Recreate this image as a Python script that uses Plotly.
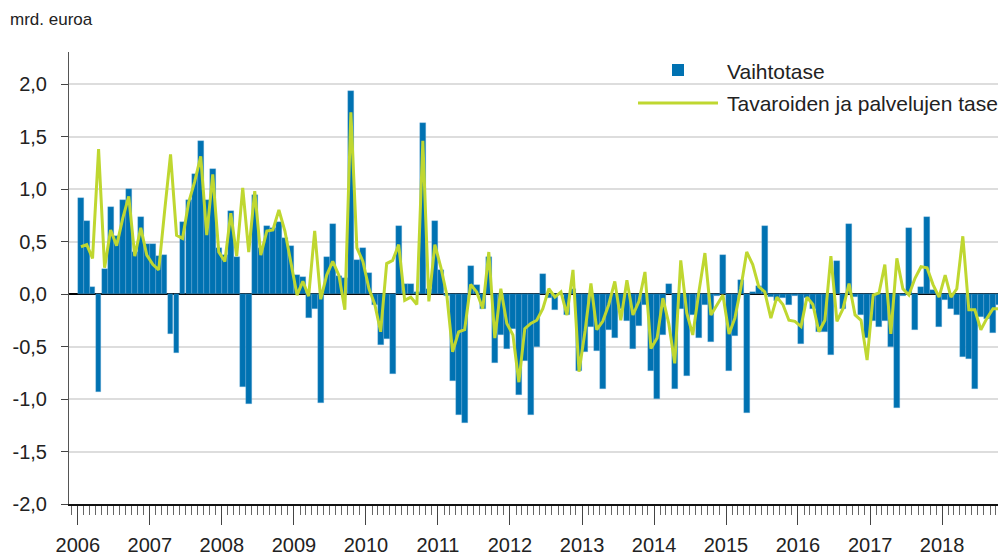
import numpy as np
import pandas as pd
import plotly.graph_objects as go

# Monthly data, Jan 2006 - Nov 2018 (mrd. euroa)
months = pd.date_range("2006-01-01", periods=155, freq="MS")

vaihtotase = [
    0.91, 0.70, 0.07, -0.93, 0.24, 0.83, 0.55, 0.90, 1.00, 0.40, 0.73, 0.48,   # 2006
    0.48, 0.36, 0.37, -0.38, -0.56, 0.69, 0.90, 1.14, 1.46, 0.90, 1.19, 0.44,  # 2007
    0.37, 0.79, 0.35, -0.89, -1.05, 0.94, 0.44, 0.65, 0.63, 0.69, 0.53, 0.46,  # 2008
    0.18, 0.16, -0.23, -0.14, -1.04, 0.35, 0.67, 0.17, 0.15, 1.93, 0.32, 0.44, # 2009
    0.20, -0.10, -0.49, -0.43, -0.76, 0.65, 0.10, 0.10, 0.02, 1.63, 0.05, 0.70, # 2010
    0.23, -0.02, -0.83, -1.15, -1.23, 0.27, 0.09, -0.14, 0.35, -0.66, -0.39, -0.52, # 2011
    -0.33, -0.96, -0.64, -1.15, -0.50, 0.19, -0.04, -0.15, -0.01, -0.20, 0.05, -0.73, # 2012
    -0.55, -0.31, -0.54, -0.90, -0.34, -0.42, -0.14, -0.26, -0.52, -0.30, -0.10, -0.73, # 2013
    -1.00, -0.39, 0.10, -0.90, -0.14, -0.78, -0.20, -0.42, -0.10, -0.46, -0.02, 0.37, # 2014
    -0.73, -0.40, 0.13, -1.13, 0.02, 0.08, 0.65, -0.03, -0.07, -0.04, -0.10, -0.02, # 2015
    -0.48, -0.04, -0.14, -0.36, -0.36, -0.58, 0.31, -0.14, 0.67, -0.03, -0.20, -0.42, # 2016
    -0.26, -0.31, -0.26, -0.50, -1.09, -0.02, 0.63, -0.34, 0.07, 0.73, 0.04, -0.31, # 2017
    -0.06, -0.14, -0.20, -0.60, -0.62, -0.90, -0.22, -0.24, -0.37, -0.10, 0.17,  # 2018
]

tavarat_palvelut = [
    0.45, 0.47, 0.34, 1.38, 0.25, 0.61, 0.46, 0.72, 0.93, 0.36, 0.63, 0.37,
    0.28, 0.23, 0.78, 1.33, 0.56, 0.53, 0.87, 1.07, 1.31, 0.56, 1.14, 0.40,
    0.31, 0.77, 0.36, 1.01, 0.40, 0.98, 0.37, 0.60, 0.61, 0.80, 0.60, 0.31,
    -0.01, 0.12, -0.02, 0.60, -0.05, 0.18, 0.31, 0.18, -0.15, 1.73, 0.44, 0.31,
    0.05, -0.10, -0.36, 0.29, 0.32, 0.47, -0.06, -0.03, -0.10, 1.46, -0.07, 0.47,
    0.25, -0.01, -0.55, -0.36, -0.34, 0.09, 0.02, -0.14, 0.40, -0.42, 0.05, -0.28,
    -0.39, -0.84, -0.33, -0.28, -0.25, -0.14, 0.05, -0.03, 0.02, -0.20, 0.23, -0.74,
    -0.35, 0.10, -0.34, -0.26, -0.10, 0.12, -0.25, 0.13, -0.20, -0.07, 0.21, -0.52,
    -0.42, -0.04, -0.28, -0.66, 0.32, -0.18, -0.39, 0.02, 0.39, -0.20, -0.10, -0.01,
    -0.38, -0.23, 0.05, 0.40, 0.28, 0.07, 0.02, -0.23, -0.03, -0.10, -0.25, -0.26,
    -0.31, -0.03, -0.10, -0.36, -0.25, 0.36, -0.26, -0.14, 0.10, -0.20, -0.25, -0.63,
    -0.01, 0.01, 0.28, -0.38, 0.34, 0.05, -0.01, 0.15, 0.26, 0.25, 0.09, -0.03,
    0.18, -0.03, 0.05, 0.55, -0.15, -0.15, -0.34, -0.23, -0.14, -0.14, 0.00,
]

years = list(range(2006, 2019))
y_ticks = [-2.0, -1.5, -1.0, -0.5, 0.0, 0.5, 1.0, 1.5, 2.0]
y_ticktext = [f"{v:.1f}".replace(".", ",") for v in y_ticks]
series_names = ["Vaihtotase", "Tavaroiden ja palvelujen tase"]
unit_label = "mrd. euroa"

BLUE = "#0072b2"
GREEN = "#bfd730"
FONT = "Liberation Sans, Arial, sans-serif"

fig = go.Figure()
fig.add_trace(go.Bar(
    x=months, y=vaihtotase, name=series_names[0],
    xperiod="M1", xperiodalignment="middle",
    marker=dict(color=BLUE, line=dict(color="rgba(120,180,220,0.6)", width=0.5)),
    showlegend=False,
))
fig.add_trace(go.Scatter(
    x=months, y=tavarat_palvelut, name=series_names[1], mode="lines",
    xperiod="M1", xperiodalignment="middle",
    line=dict(color=GREEN, width=3), showlegend=False,
))

# The page body has an 8px margin, so the figure is laid out 8px up/left.
OFF = 8
W, H = 1006 - OFF, 555 - OFF
ML, MR, MT, MB = 69 - OFF, 0, 52 - OFF, 51
PW, PH = W - ML - MR, H - MT - MB

def px_x(p):
    return (p - OFF - ML) / PW

def px_y(p):
    return (H - MB - (p - OFF)) / PH

fig.update_layout(
    width=W, height=H,
    margin=dict(l=ML, r=MR, t=MT, b=MB, pad=0, autoexpand=False),
    plot_bgcolor="white", paper_bgcolor="white",
    bargap=0,
    font=dict(family=FONT, color="#222222"),
    showlegend=False,
)

fig.update_xaxes(
    type="date", automargin=False,
    range=["2005-11-17", "2018-11-21"],
    tickvals=[f"{y}-01-01" for y in years],
    ticktext=[str(y) for y in years],
    ticks="outside", ticklen=19, tickwidth=1, tickcolor="#444444",
    ticklabelstandoff=3,
    tickfont=dict(size=20, color="#222222"),
    minor=dict(ticks="outside", ticklen=9, tickwidth=1, tickcolor="#666666",
               dtick="M1", tick0="2006-01-01", showgrid=False),
    showline=True, linecolor="#111111", linewidth=2,
    showgrid=False, zeroline=False,
)

fig.update_yaxes(
    automargin=False,
    range=[-2.0, 2.0 + (84 - 52) / 105],
    tickvals=y_ticks, ticktext=y_ticktext,
    ticks="outside", ticklen=7, tickwidth=1, tickcolor="#444444",
    ticklabelstandoff=10,
    tickfont=dict(size=20, color="#222222"),
    showline=True, linecolor="#555555", linewidth=1,
    showgrid=True, gridcolor="#dddddd", gridwidth=2,
    zeroline=True, zerolinecolor="#000000", zerolinewidth=2,
)

# unit label
fig.add_annotation(text=unit_label, xref="paper", yref="paper",
                   x=px_x(8), y=px_y(20), xanchor="left", yanchor="middle",
                   showarrow=False, font=dict(size=17, family=FONT, color="#222222"))

# legend (drawn manually to match the reference layout)
fig.add_shape(type="rect", xref="paper", yref="paper",
              x0=px_x(672), x1=px_x(684), y0=px_y(64), y1=px_y(76),
              fillcolor=BLUE, line=dict(width=0))
fig.add_shape(type="line", xref="paper", yref="paper",
              x0=px_x(638), x1=px_x(718), y0=px_y(103), y1=px_y(103),
              line=dict(color=GREEN, width=3))
fig.add_annotation(text=series_names[0], xref="paper", yref="paper",
                   x=px_x(725), y=px_y(71), xanchor="left", yanchor="middle",
                   showarrow=False, font=dict(size=21, family=FONT, color="#222222"))
fig.add_annotation(text=series_names[1], xref="paper", yref="paper",
                   x=px_x(725), y=px_y(104), xanchor="left", yanchor="middle",
                   showarrow=False, font=dict(size=21, family=FONT, color="#222222"))

fig.write_html("out.html")
